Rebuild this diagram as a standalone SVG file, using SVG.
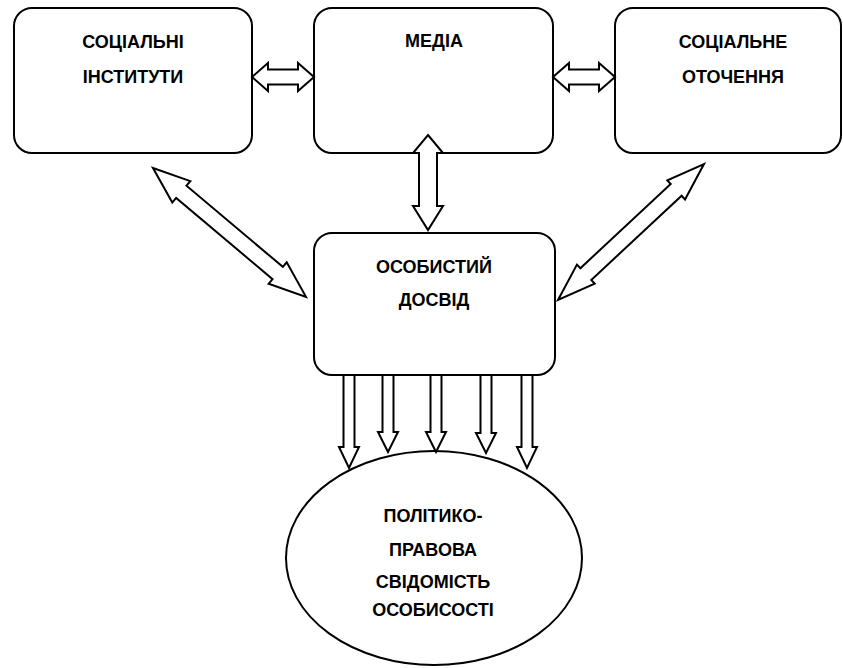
<svg xmlns="http://www.w3.org/2000/svg" width="843" height="668" viewBox="0 0 843 668">
<style>
.box{fill:#fff;stroke:#000;stroke-width:2}
.arr{fill:#fff;stroke:#000;stroke-width:2;stroke-linejoin:miter}
text{font-family:"Liberation Sans",Arial,sans-serif;font-weight:bold;font-size:18px;text-anchor:middle;fill:#000}
</style>
<rect width="843" height="668" fill="#fff"/>
<g id="soc-inst">
<rect class="box" x="14" y="8" width="238" height="145" rx="18"/>
<text x="133" y="48">СОЦІАЛЬНІ</text>
<text x="133" y="83">ІНСТИТУТИ</text>
</g>
<g id="media">
<rect class="box" x="314" y="8" width="239" height="145" rx="18"/>
<text x="434" y="47">МЕДІА</text>
</g>
<g id="soc-env">
<rect class="box" x="615" y="8" width="226" height="145" rx="18"/>
<text x="733" y="48">СОЦІАЛЬНЕ</text>
<text x="733" y="83">ОТОЧЕННЯ</text>
</g>
<g id="experience">
<rect class="box" x="314" y="233" width="241" height="142" rx="18"/>
<text x="434" y="273">ОСОБИСТИЙ</text>
<text x="434" y="306">ДОСВІД</text>
</g>
<g id="consciousness">
<ellipse class="box" cx="434" cy="558" rx="148" ry="107"/>
<text x="433" y="522">ПОЛІТИКО-</text>
<text x="433" y="556">ПРАВОВА</text>
<text x="433" y="588">СВІДОМІСТЬ</text>
<text x="433" y="616">ОСОБИСОСТІ</text>
</g>
<g id="connectors">
<polygon class="arr" points="252,77 268,63 268,69.5 298,69.5 298,63 314,77 298,91 298,84.5 268,84.5 268,91"/>
<polygon class="arr" points="553,77 569,63 569,69.5 599,69.5 599,63 615,77 599,91 599,84.5 569,84.5 569,91"/>
<polygon class="arr" points="428,135 443,153 437,153 437,206 443,206 428,230 413,206 419,206 419,153 413,153"/>
<polygon class="arr" transform="translate(153,168) rotate(40.1)" points="0,0 37,-14 37,-8 163,-8 163,-14 200,0 163,14 163,8 37,8 37,14"/>
<polygon class="arr" transform="translate(558,300) rotate(-42.97)" points="0,0 38,-13 38,-8 161.5,-8 161.5,-13 199.5,0 161.5,13 161.5,8 38,8 38,13"/>
<polygon class="arr" points="343.5,375 354.5,375 354.5,447 359,447 349,468 339,447 343.5,447"/>
<polygon class="arr" points="382.5,375 393.5,375 393.5,432 398,432 388,452 378,432 382.5,432"/>
<polygon class="arr" points="430.5,375 441.5,375 441.5,432 446,432 436,452 426,432 430.5,432"/>
<polygon class="arr" points="480.5,375 491.5,375 491.5,433 496,433 486,453 476,433 480.5,433"/>
<polygon class="arr" points="521.5,375 532.5,375 532.5,447 537,447 527,468 517,447 521.5,447"/>
</g>
</svg>
